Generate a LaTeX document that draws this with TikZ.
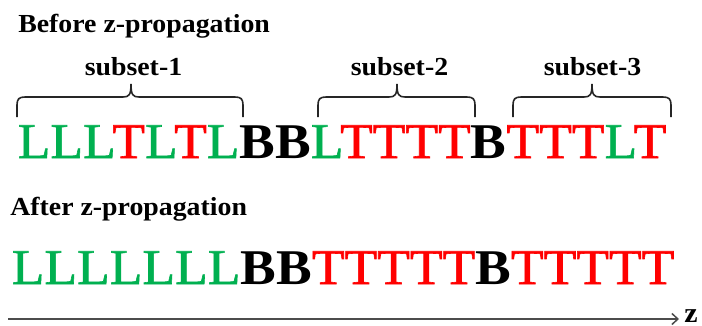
\documentclass[tikz,border=0pt]{standalone}
\usepackage{fontspec}
\setmainfont{Liberation Serif}[FakeStretch=1.07]
\newfontfamily\seqfont{Liberation Serif}[FakeStretch=1.07,FakeBold=1.2]
\usetikzlibrary{arrows.meta}

\definecolor{lgreen}{HTML}{00B050}
\definecolor{tred}{HTML}{FF0000}
\newcommand{\Lchr}{\textcolor{lgreen}{L}}
\newcommand{\Tchr}{\textcolor{tred}{T}}
\newcommand{\Bchr}{{\normalfont\bfseries B}}
\newcommand{\kLT}{\kern-3.5pt}

\begin{document}
\begin{tikzpicture}[
     x = 1pt, y = -1pt, % pixel grid, y pointing down
     > = {Straight Barb[length=6pt,width=11pt]}, % arrow head style
     semithick % line style
 ]

 \tikzstyle{heading}=[
     font = \bfseries\fontsize{26}{26}\selectfont,
     inner sep = 0pt,
     anchor = base west
 ]
 \tikzstyle{subsetlabel}=[
     font = \bfseries\fontsize{26}{26}\selectfont,
     inner sep = 0pt,
     anchor = base
 ]
 \tikzstyle{sequence}=[
     font = \seqfont\fontsize{50}{50}\selectfont,
     inner sep = 0pt,
     anchor = base west
 ]
 \tikzstyle{bracket} = [black!85, line width=1.6pt]

 \useasboundingbox (0,0) rectangle (702,325);

 \node[heading] (before) at (18,32) {Before z-propagation};

 \node[subsetlabel] (sub1) at (133.5,75) {subset-1};
 \node[subsetlabel] (sub2) at (399.5,75) {subset-2};
 \node[subsetlabel] (sub3) at (592.5,75) {subset-3};

 % braces over the subsets
 \foreach \xl/\xr/\xm in {17/243/131, 318/475/397, 513/671/592}
   \draw[bracket] (\xl,117) -- (\xl,105) .. controls (\xl,99) and (\xl+2,97) .. (\xl+8,97)
     -- (\xm-8,97) .. controls (\xm-2,97) and (\xm,95) .. (\xm,84)
     .. controls (\xm,95) and (\xm+2,97) .. (\xm+8,97)
     -- (\xr-8,97) .. controls (\xr-2,97) and (\xr,99) .. (\xr,105) -- (\xr,117);

 \node[sequence] (seqbefore) at (17.5,158) {\Lchr\Lchr\Lchr\kLT\Tchr\Lchr\kLT\Tchr\Lchr\Bchr\Bchr\Lchr\kLT\Tchr\Tchr\Tchr\Tchr\Bchr\Tchr\Tchr\Tchr\Lchr\kLT\Tchr};

 \node[heading] (after) at (10,215) {After z-propagation};

 \node[sequence] (seqafter) at (11.5,284) {\Lchr\Lchr\Lchr\Lchr\Lchr\Lchr\Lchr\Bchr\Bchr\Tchr\Tchr\Tchr\Tchr\Tchr\Bchr\Tchr\Tchr\Tchr\Tchr\Tchr};

 % propagation axis
 \coordinate (zstart) at (8,319);
 \coordinate (zend) at (679,319);
 \draw[->, line width=1.5pt, black!70] (zstart) -- (zend);
 \node[heading, font=\bfseries\fontsize{28}{28}\selectfont] (zaxis) at (684,322) {z};
\end{tikzpicture}
\end{document}
